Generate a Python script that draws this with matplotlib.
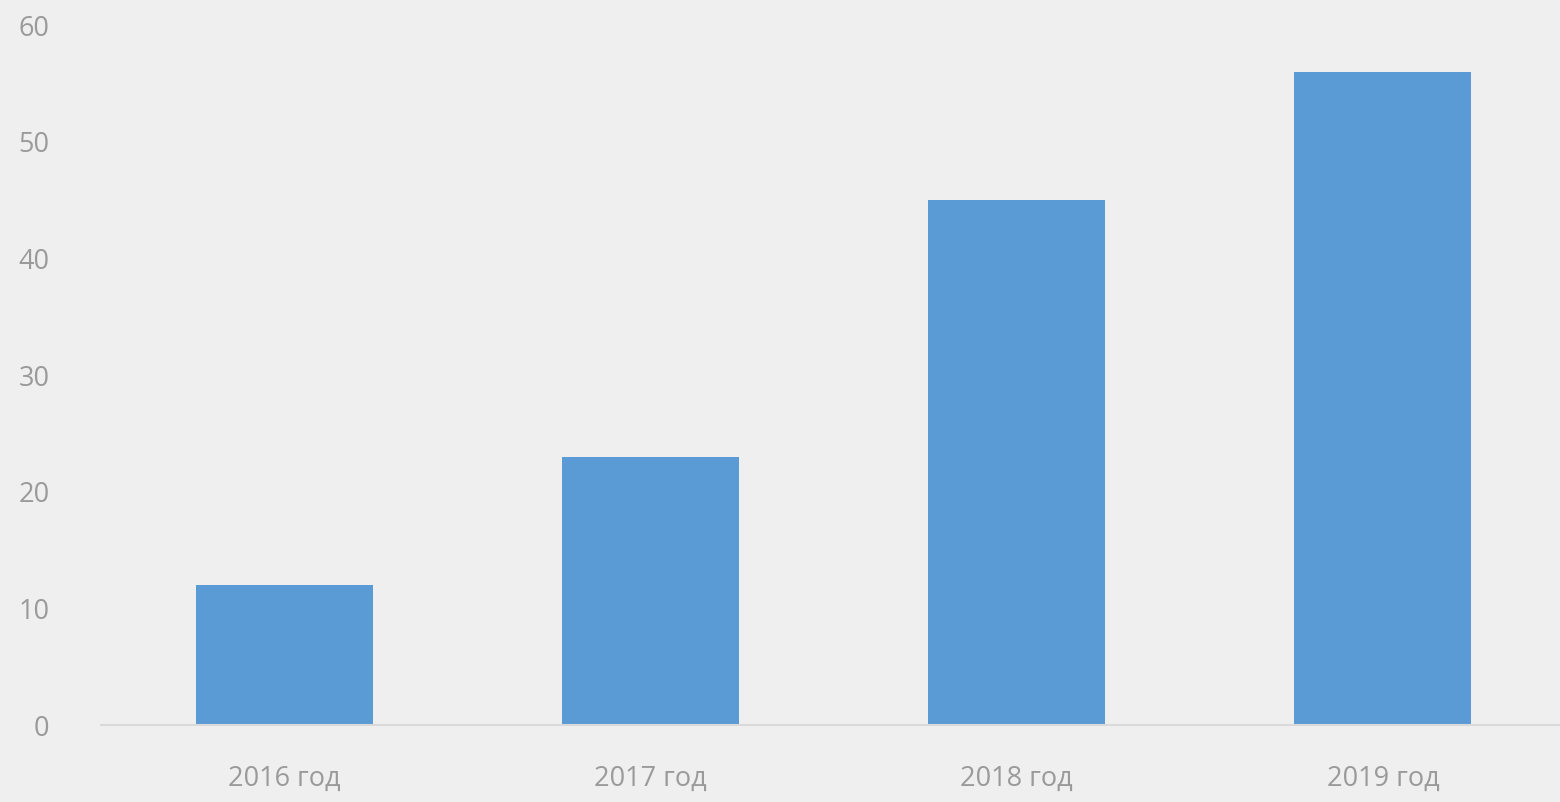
import matplotlib as mpl
mpl.use('Agg')
import matplotlib.pyplot as plt
import numpy as np

years = ['2016 год', '2017 год', '2018 год', '2019 год']
values = [12, 23, 45, 56]
yticks = [0, 10, 20, 30, 40, 50, 60]

bg = '#efefef'
bar_color = '#5b9bd5'
txt_color = '#9a9a9a'

plt.rcParams['font.family'] = ['Open Sans', 'DejaVu Sans']

fig = plt.figure(figsize=(15.6, 8.02), dpi=100, facecolor=bg)
ax = fig.add_axes([101/1560., 77/802., 1465/1560., 700/802.])
ax.set_facecolor(bg)

x = np.arange(len(years))
ax.bar(x, values, width=0.483, color=bar_color, zorder=2)

ax.set_xlim(-0.5, len(years) - 0.5)
ax.set_ylim(0, 60)
ax.set_yticks(yticks)
ax.set_xticks(x)
ax.set_xticklabels(years)

for s in ['top', 'right', 'left']:
    ax.spines[s].set_visible(False)
ax.spines['bottom'].set_color('#d9d9d9')
ax.spines['bottom'].set_linewidth(1.5)

ax.tick_params(axis='y', length=0, pad=37, labelsize=19.5, labelcolor=txt_color)
ax.tick_params(axis='x', length=0, pad=29, labelsize=19.5, labelcolor=txt_color)

fig.savefig('out.png', dpi=100, facecolor=bg)
